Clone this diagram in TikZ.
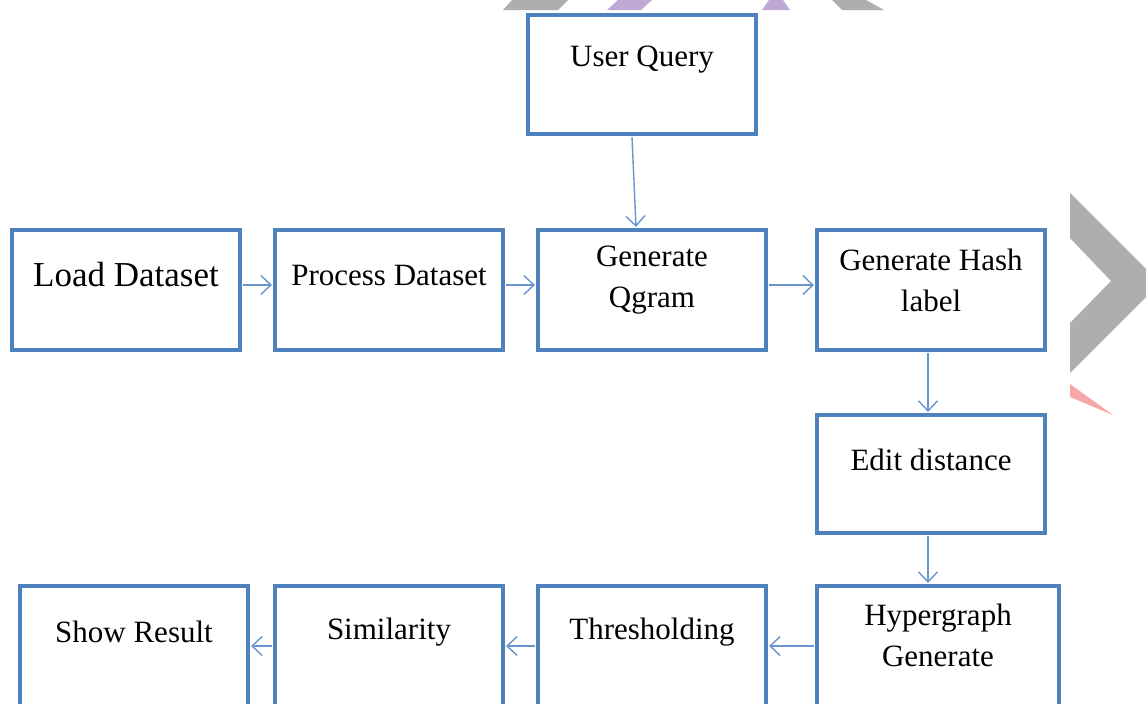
\documentclass[tikz,border=0pt]{standalone}
\usepackage{fontspec}
\setmainfont{Liberation Serif}
\usetikzlibrary{arrows.meta}
\definecolor{boxblue}{HTML}{4F81BD}
\definecolor{linkblue}{HTML}{6A95CC}
\definecolor{wmgrey}{HTML}{AEAEAE}
\definecolor{wmpurple}{HTML}{BFA9D4}
\definecolor{wmpink}{HTML}{F6A8A8}
\tikzset{
  stepbox/.style={draw=boxblue, line width=3.2pt, fill=white, minimum width=228pt, minimum height=119pt, inner sep=0pt},
  lbl/.style={font=\fontsize{31}{41}\selectfont, align=center, inner sep=0pt},
  arr/.style={draw=linkblue, line width=1.4pt, -{Straight Barb[length=10pt,width=19pt,line width=1.4pt]}}
}
\begin{document}
\begin{tikzpicture}[x=1pt,y=-1pt]
\useasboundingbox (0,0) rectangle (1146,704);
\clip (0,0) rectangle (1146,704);
\fill[white] (0,0) rectangle (1146,704);
% watermark shapes
\fill[wmgrey] (512,0) -- (568,0) -- (558,10) -- (503,10) -- cycle;
\fill[wmpurple] (618,0) -- (652,0) -- (641,10) -- (607,10) -- cycle;
\fill[wmpurple] (769,0) -- (783,0) -- (790,10) -- (762,10) -- cycle;
\fill[wmgrey] (832,0) -- (866,0) -- (884,10) -- (842,10) -- cycle;
\fill[wmgrey] (1070,193) -- (1160,283) -- (1070,373) -- (1070,323) -- (1111,281) -- (1070,238) -- cycle;
\fill[wmpink] (1070,384) -- (1113,415) -- (1070,397) -- cycle;
% boxes
\node[stepbox] (uq) at (642,74.5) {};
\node[stepbox, minimum height=120pt] (load) at (126,290) {};
\node[stepbox, minimum height=120pt] (proc) at (389,290) {};
\node[stepbox, minimum height=120pt] (qgram) at (652,290) {};
\node[stepbox, minimum height=120pt] (hash) at (931,290) {};
\node[stepbox, minimum height=118pt] (edit) at (931,474) {};
\node[stepbox, minimum width=242pt, minimum height=120pt] (hyper) at (938,646) {};
\node[stepbox, minimum height=120pt] (thresh) at (652,646) {};
\node[stepbox, minimum height=120pt] (sim) at (389,646) {};
\node[stepbox, minimum height=120pt] (show) at (134,646) {};
% labels
\node[lbl] (tuq) at ([yshift=15pt]uq.center) {User Query};
\node[lbl, font=\fontsize{35}{41}\selectfont] (tload) at ([yshift=15pt]load.center) {Load Dataset};
\node[lbl] (tproc) at ([yshift=15pt]proc.center) {Process Dataset};
\node[lbl] (tqgram) at ([yshift=10pt]qgram.center) {Generate\\Qgram};
\node[lbl] (thash) at ([yshift=10pt]hash.center) {Generate Hash\\label};
\node[lbl] (tedit) at ([yshift=14pt]edit.center) {Edit distance};
\node[lbl] (thyper) at ([yshift=11pt]hyper.center) {Hypergraph\\Generate};
\node[lbl] (tthresh) at ([yshift=14pt]thresh.center) {Thresholding};
\node[lbl] (tsim) at ([yshift=14pt]sim.center) {Similarity};
\node[lbl] (tshow) at ([yshift=14pt]show.center) {Show Result};
% connectors
\draw[arr] ([xshift=-10pt,yshift=-1.5pt]uq.south) -- ([xshift=-16pt,yshift=1.5pt]qgram.north);
\draw[arr] ([xshift=1.5pt,yshift=5pt]load.east) -- ([xshift=-1.5pt,yshift=5pt]proc.west);
\draw[arr] ([xshift=1.5pt,yshift=5pt]proc.east) -- ([xshift=-1.5pt,yshift=5pt]qgram.west);
\draw[arr] ([xshift=1.5pt,yshift=5pt]qgram.east) -- ([xshift=-1.5pt,yshift=5pt]hash.west);
\draw[arr] ([xshift=-3pt,yshift=-1.5pt]hash.south) -- ([xshift=-3pt,yshift=1.5pt]edit.north);
\draw[arr] ([xshift=-3pt,yshift=-1.5pt]edit.south) -- ([xshift=-10pt,yshift=1.5pt]hyper.north);
\draw[arr] ([xshift=-1.5pt]hyper.west) -- ([xshift=1.5pt]thresh.east);
\draw[arr] ([xshift=-1.5pt]thresh.west) -- ([xshift=1.5pt]sim.east);
\draw[arr] ([xshift=-1.5pt]sim.west) -- ([xshift=1.5pt]show.east);
\end{tikzpicture}
\end{document}
